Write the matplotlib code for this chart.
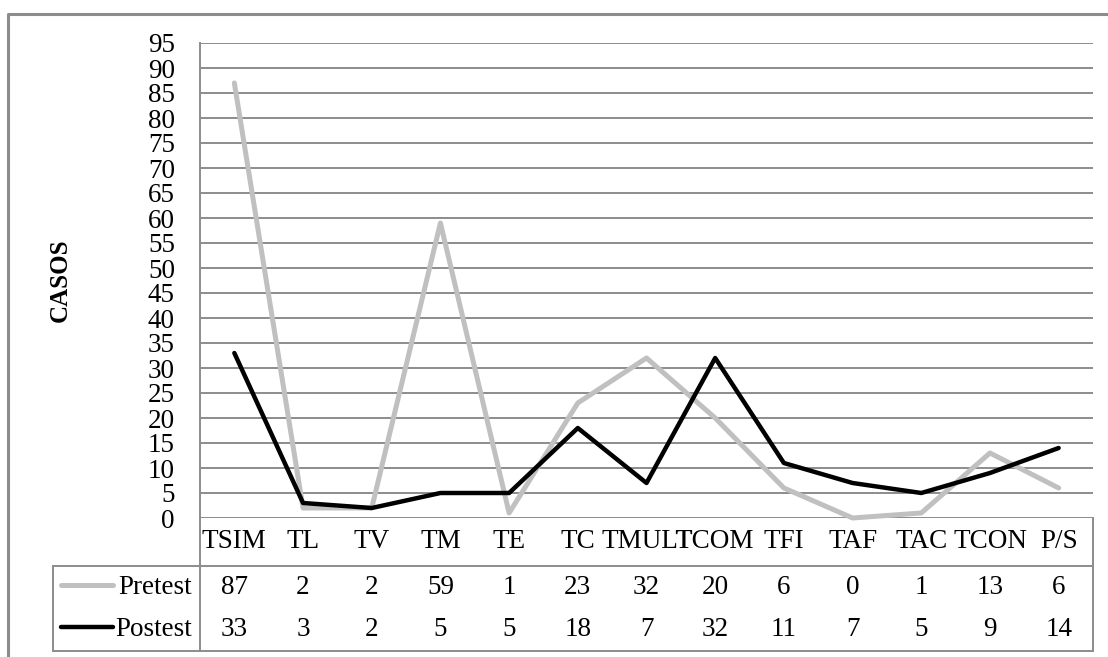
import matplotlib.pyplot as plt
from matplotlib.transforms import blended_transform_factory

categorias = ['TSIM', 'TL', 'TV', 'TM', 'TE', 'TC', 'TMULT', 'TCOM',
              'TFI', 'TAF', 'TAC', 'TCON', 'P/S']
pretest = [87, 2, 2, 59, 1, 23, 32, 20, 6, 0, 1, 13, 6]
postest = [33, 3, 2, 5, 5, 18, 7, 32, 11, 7, 5, 9, 14]
etiquetas_y = list(range(0, 100, 5))

GRIS = '#c0c0c0'
LINEA = '#8c8c8c'
FS = 19.5

plt.rcParams['font.family'] = ['Liberation Serif', 'DejaVu Serif']

W, H = 1108, 657
fig = plt.figure(figsize=(W / 100, H / 100), dpi=100)

# capa en pixeles para el marco y la tabla de datos
capa = fig.add_axes([0, 0, 1, 1])
capa.set_xlim(0, W)
capa.set_ylim(H, 0)
capa.axis('off')

x0, x1, ytop, ycero = 200, 1093, 43, 518
ax = fig.add_axes([x0 / W, (H - ycero) / H, (x1 - x0) / W, (ycero - ytop) / H])
n = len(categorias)
ax.set_xlim(-0.5, n - 0.5)
ax.set_ylim(0, 95)
ax.set_yticks(etiquetas_y)
ax.set_yticklabels([str(v) for v in etiquetas_y], fontsize=FS)
ax.tick_params(axis='y', length=0, pad=18)
ax.set_xticks([])
ax.yaxis.grid(True, color=LINEA, linewidth=1.4)
ax.set_axisbelow(True)
for lado in ['top', 'right', 'bottom']:
    ax.spines[lado].set_visible(False)
ax.spines['left'].set_color(LINEA)
ax.spines['left'].set_linewidth(1.4)

xs = range(n)
ax.plot(xs, pretest, color=GRIS, linewidth=3.6, solid_joinstyle='round',
        solid_capstyle='round', clip_on=False)
ax.plot(xs, postest, color='black', linewidth=3.2, solid_joinstyle='round',
        solid_capstyle='round', clip_on=False)

# marco exterior
capa.plot([8, 8, W + 5], [H + 5, 14, 14], color=LINEA, linewidth=2.2)
capa.text(60, (ytop + ycero) / 2, 'CASOS', rotation=90, ha='center', va='center',
          fontsize=18, fontweight='bold')

# tabla de datos
y_cat, y_pre, y_post = 542, 588, 629
y_cab, y_fin, x_leyenda = 566, 651, 53
kw = dict(color=LINEA, linewidth=1.4)
capa.plot([x0, x0], [ycero, y_fin], **kw)
capa.plot([x1, x1], [ycero, y_fin], **kw)
capa.plot([x_leyenda, x1], [y_cab, y_cab], **kw)
capa.plot([x_leyenda, x1], [y_fin, y_fin], **kw)
capa.plot([x_leyenda, x_leyenda], [y_cab, y_fin], **kw)

tr = blended_transform_factory(ax.transData, capa.transData)
for i, cat in enumerate(categorias):
    capa.text(i, y_cat, cat, transform=tr, ha='center', va='center', fontsize=FS)
    capa.text(i, y_pre, str(pretest[i]), transform=tr, ha='center', va='center', fontsize=FS)
    capa.text(i, y_post, str(postest[i]), transform=tr, ha='center', va='center', fontsize=FS)

capa.plot([61, 113], [585, 585], color=GRIS, linewidth=3.6, solid_capstyle='round')
capa.plot([61, 113], [627, 627], color='black', linewidth=3.2, solid_capstyle='round')
capa.text(192, y_pre, 'Pretest', ha='right', va='center', fontsize=FS)
capa.text(192, y_post, 'Postest', ha='right', va='center', fontsize=FS)

fig.savefig('out.png', dpi=100)
